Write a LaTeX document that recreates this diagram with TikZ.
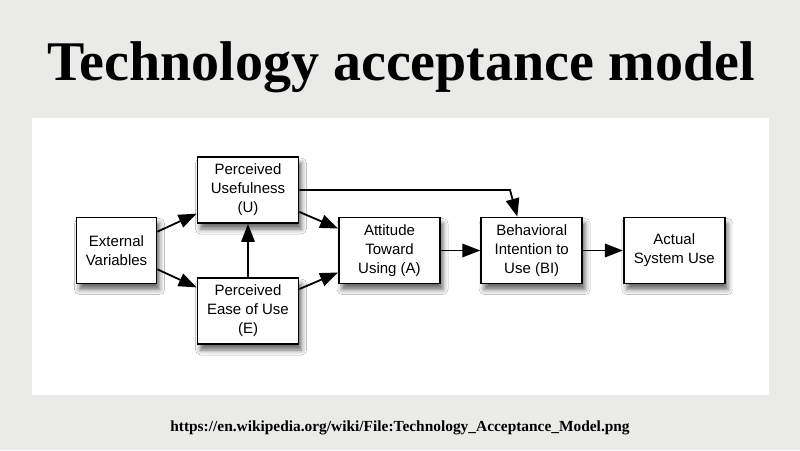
\documentclass[tikz,border=0pt]{standalone}
\usepackage{fontspec}
\setmainfont{Liberation Serif}
\newfontfamily\boxfont{Liberation Sans}
\usetikzlibrary{graphs}
\usetikzlibrary{arrows.meta}
\usetikzlibrary{shadows.blur}
\definecolor{slide}{HTML}{EAEBE9}
\tikzset{
  box/.style= {draw, fill=white, line width=1.8, minimum width=101, minimum height=66,
    align=center, font=\boxfont\fontsize{15}{19}\selectfont,
    blur shadow={shadow xshift=3pt, shadow yshift=-6pt, shadow blur radius=5pt, shadow opacity=60}},
  sbox/.style= {box, minimum width=80},
  title/.style= {anchor=base, font=\bfseries\fontsize{56}{60}\selectfont},
  link/.style= {anchor=base, font=\bfseries\fontsize{15.4}{18}\selectfont},
}

\begin{document}
\begin{tikzpicture}[x=1pt, y=-1pt, line width=1.8, >={Triangle[length=18pt,width=13.5pt]}]
  \fill [slide] (0,0) rectangle (800,450);
  \fill [white] (31.5,118) rectangle (769,395);
  \useasboundingbox (0,0) rectangle (800,450);

  \node [title] (t) at (401,80) {Technology acceptance model};
  \node [link] (w) at (400,431.7) {https://en.wikipedia.org/wiki/File:Technology\_Acceptance\_Model.png};

  \node [sbox] (a) at (116.5,250.5) {External\\Variables};
  \node [box] (b) at (248,190) {Perceived\\Usefulness\\(U)};
  \node [box] (c) at (248,311) {Perceived\\Ease of Use\\(E)};
  \node [box] (d) at (389.5,250.5) {Attitude\\Toward\\Using (A)};
  \node [box] (e) at (531.7,250.5) {Behavioral\\Intention to\\Use (BI)};
  \node [box] (f) at (674.3,250.5) {Actual\\System Use};
  \coordinate (k) at (510,190);

  \graph {
    (a) -> (b) -> (d) -> (e) -> (f) ;
    (a) -> (c) -> (d) ;
    (c) -> (b) ;
  } ;
  \draw [->] (b.east) -- (k) -- ([xshift=37]e.north west);
\end{tikzpicture}
\end{document}
